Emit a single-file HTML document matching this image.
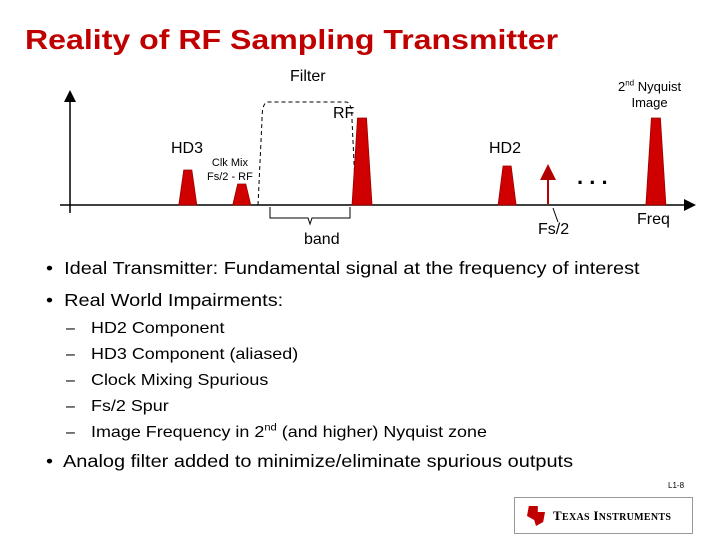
<!DOCTYPE html>
<html><head><meta charset="utf-8"><style>
body{margin:0;background:#fff}
#p{position:relative;width:720px;height:540px;overflow:hidden;background:#fff;font-family:"Liberation Sans",Arial,sans-serif;color:#000}
.t{position:absolute;white-space:nowrap}
.sx{transform-origin:0 0}
sup{line-height:0}
</style></head><body>
<div id="p">
<div class="t sx" style="left:25px;top:24px;font-size:28px;font-weight:bold;color:#c00000;transform:scaleX(1.146)">Reality of RF Sampling Transmitter</div>
<svg id="d" width="720" height="260" style="position:absolute;left:0;top:0">
<defs><marker id="ah" markerWidth="8" markerHeight="8" refX="4" refY="4" orient="auto"><path d="M0,0 L8,4 L0,8z" fill="#000"/></marker>
<marker id="ar" markerWidth="8" markerHeight="8" refX="4" refY="4" orient="auto"><path d="M0,0 L8,4 L0,8z" fill="#b00000"/></marker></defs>
<line x1="70" y1="213" x2="70" y2="96" stroke="#000" stroke-width="1.5" marker-end="url(#ah)"/>
<line x1="60" y1="205" x2="690" y2="205" stroke="#000" stroke-width="1.5" marker-end="url(#ah)"/>
<path d="M258,205 L262,120 Q262,102 268,102 L346,102 Q352,102 352,120 L356,205" fill="none" stroke="#000" stroke-dasharray="4,3"/>
<path d="M270,207 L270,218 L308,218 L310,224 L312,218 L350,218 L350,207" fill="none" stroke="#000"/>
<line x1="553" y1="208" x2="558" y2="222" stroke="#000"/>
<g id="marks"></g>
<text x="577" y="184" font-size="22" font-weight="bold" font-family="Liberation Sans">. . .</text>
</svg>
<div class="t" style="left:290px;top:68px;font-size:16px">Filter</div>
<div class="t" style="left:618px;top:79px;font-size:13px;text-align:center;line-height:16px">2<sup style="font-size:8px">nd</sup> Nyquist<br>Image</div>
<div class="t" style="left:333px;top:105px;font-size:16px">RF</div>
<div class="t" style="left:171px;top:140px;font-size:16px">HD3</div>
<div class="t" style="left:207px;top:156px;font-size:11px;line-height:14px;text-align:center">Clk Mix<br>Fs/2 - RF</div>
<div class="t" style="left:489px;top:140px;font-size:16px">HD2</div>
<div class="t" style="left:304px;top:231px;font-size:16px">band</div>
<div class="t" style="left:538px;top:221px;font-size:16px">Fs/2</div>
<div class="t" style="left:637px;top:211px;font-size:16px">Freq</div>
<div class="t sx" style="left:46px;top:258px;font-size:17.5px;line-height:20px;transform:scaleX(1.14)">•&nbsp; Ideal Transmitter: Fundamental signal at the frequency of interest</div>
<div class="t sx" style="left:46px;top:290px;font-size:17.5px;line-height:20px;transform:scaleX(1.14)">•&nbsp; Real World Impairments:</div>
<div class="t" style="left:66px;top:316px;font-size:16px;line-height:26px">
<div>–</div><div>–</div><div>–</div><div>–</div><div>–</div>
</div>
<div class="t sx" style="left:91px;top:316px;font-size:16px;line-height:26px;transform:scaleX(1.12)">
<div>HD2 Component</div>
<div>HD3 Component (aliased)</div>
<div>Clock Mixing Spurious</div>
<div>Fs/2 Spur</div>
<div>Image Frequency in 2<sup style="font-size:10px">nd</sup> (and higher) Nyquist zone</div>
</div>
<div class="t sx" style="left:46px;top:451px;font-size:17.5px;line-height:20px;transform:scaleX(1.14)">•&nbsp; Analog filter added to minimize/eliminate spurious outputs</div>
<div class="t" style="left:668px;top:481px;font-size:8px">L1-8</div>
<div style="position:absolute;left:514px;top:497px;width:179px;height:37px;border:1px solid #999;box-sizing:border-box">
<span style="position:absolute;left:12px;top:8px;width:18px;height:20px;background:#c00000;clip-path:polygon(10% 0,60% 0,60% 30%,100% 30%,90% 80%,50% 100%,40% 70%,0 50%)"></span>
<span class="t" style="left:38px;top:10px;font-size:13px;font-weight:bold;font-family:'Liberation Serif',serif;letter-spacing:0.3px">T<span style="font-size:10px">EXAS</span> I<span style="font-size:10px">NSTRUMENTS</span></span>
</div>
</div>
<script>
const peakNames=["hd3","clk-mix","rf","hd2","nyquist-image"];
const peakFreq=[19,27.7,47.1,70.5,94.5];
const peakAmp=[35,21,87,39,87];
const peakWidth=[9,9,10,9,10];
const spurFreq=[77.1];
const spurAmp=[37];
const x=f=>70+f*6.2, y=a=>205-a;
const g=document.getElementById('marks');
const NS='http://www.w3.org/2000/svg';
peakFreq.forEach((f,i)=>{
 const cx=x(f),w=peakWidth[i],t=y(peakAmp[i]);
 const p=document.createElementNS(NS,'path');
 p.setAttribute('d',`M${cx-w},205 L${cx-w*0.45},${t} L${cx+w*0.45},${t} L${cx+w},205 Z`);
 p.setAttribute('fill','#d00000');p.setAttribute('stroke','#900');p.setAttribute('stroke-width','0.8');
 
 
 g.appendChild(p);
});
spurFreq.forEach((f,i)=>{
 const l=document.createElementNS(NS,'line');
 l.setAttribute('x1',x(f));l.setAttribute('x2',x(f));l.setAttribute('y1',204);l.setAttribute('y2',y(spurAmp[i])+4);
 l.setAttribute('stroke','#b00000');l.setAttribute('stroke-width','2');l.setAttribute('marker-end','url(#ar)');
 
 
 g.appendChild(l);
});
</script>
</body></html>
